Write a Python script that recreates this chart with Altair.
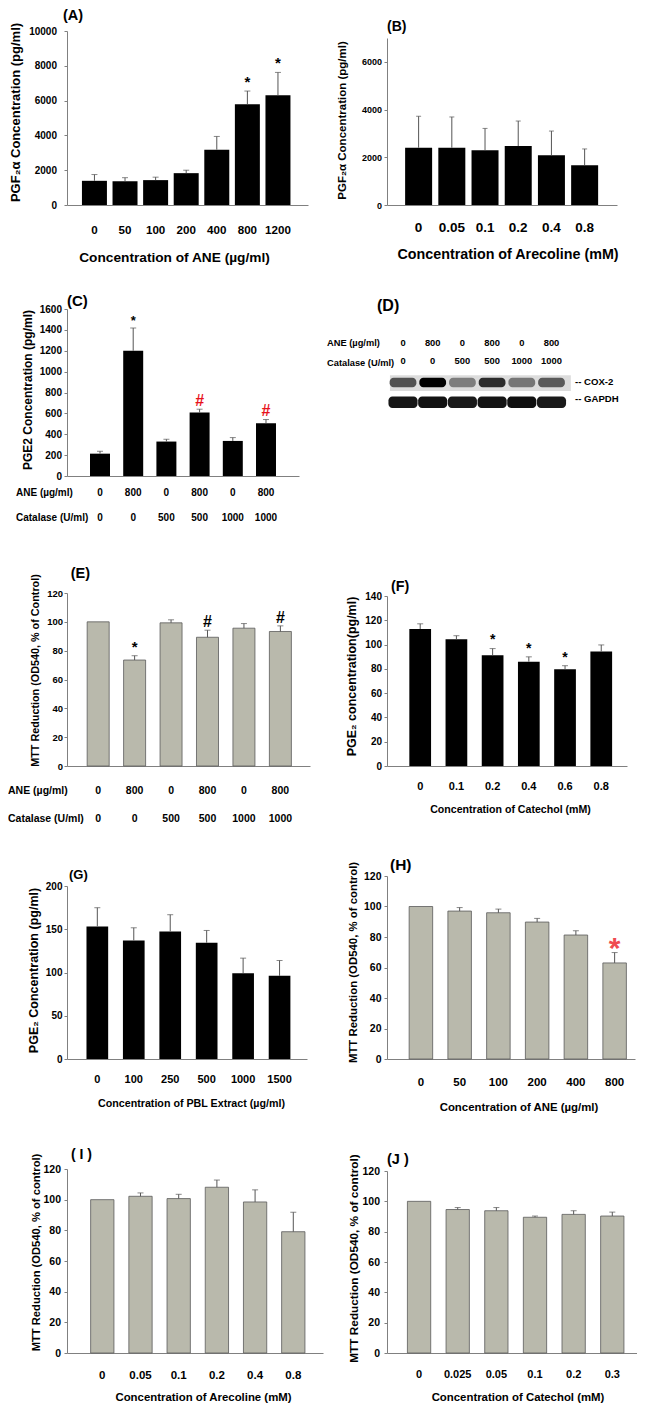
import altair as alt
import pandas as pd

FONT = "Liberation Sans"
BLACK = "#000000"
GRAY_BAR = "#b9b9ac"
BAR_EDGE = "#5a5a5a"
AXIS_GRAY = "#808080"
ERR_COL = "#555555"
RED = "#e8141c"
RED_STAR = "#ef4b50"

# ---------------- data ----------------
A_cats = ["0", "50", "100", "200", "400", "800", "1200"]
A_vals = [1390, 1360, 1430, 1830, 3180, 5790, 6310]
A_sd = [360, 210, 170, 170, 760, 760, 1310]
A_sig = ["", "", "", "", "", "*", "*"]

B_cats = ["0", "0.05", "0.1", "0.2", "0.4", "0.8"]
B_vals = [2400, 2400, 2300, 2470, 2090, 1670]
B_sd = [1320, 1290, 910, 1050, 1010, 680]

ANE_ROW = ["0", "800", "0", "800", "0", "800"]
CAT_ROW = ["0", "0", "500", "500", "1000", "1000"]

C_vals = [214, 1200, 330, 608, 336, 506]
C_sd = [23, 218, 22, 32, 32, 35]
C_sig = ["", "*", "", "#", "", "#"]

D_lanes = [1, 2, 3, 4, 5, 6]
D_cox2 = [0.62, 1.0, 0.42, 0.8, 0.45, 0.58]
D_gapdh = [0.92, 0.94, 0.9, 0.93, 0.95, 0.9]

E_vals = [100, 73.5, 99.3, 89.3, 95.6, 93.3]
E_sd = [0, 3.0, 2.1, 4.9, 3.2, 3.9]
E_sig = ["", "*", "", "#", "", "#"]

F_cats = ["0", "0.1", "0.2", "0.4", "0.6", "0.8"]
F_vals = [112.8, 104.3, 91.3, 85.9, 79.6, 94.3]
F_sd = [4.3, 3.0, 5.4, 4.0, 3.0, 5.4]
F_sig = ["", "", "*", "*", "*", ""]

G_cats = ["0", "100", "250", "500", "1000", "1500"]
G_vals = [153.3, 137.0, 147.5, 134.4, 99.2, 96.1]
G_sd = [21.6, 14.7, 19.3, 14.2, 17.4, 17.8]

H_cats = ["0", "50", "100", "200", "400", "800"]
H_vals = [100, 97.0, 95.9, 89.8, 81.3, 63.0]
H_sd = [0, 2.3, 2.4, 2.4, 2.8, 6.8]
H_sig = ["", "", "", "", "", "*"]

I_cats = ["0", "0.05", "0.1", "0.2", "0.4", "0.8"]
I_vals = [100, 102.2, 100.7, 108.1, 98.5, 79.1]
I_sd = [0, 2.2, 2.8, 4.7, 7.9, 12.7]

J_cats = ["0", "0.025", "0.05", "0.1", "0.2", "0.3"]
J_vals = [100, 94.6, 93.8, 89.5, 91.4, 90.3]
J_sd = [0, 1.3, 2.1, 0.8, 2.4, 2.6]


def text_chart(t, x, y, fs, color=BLACK, align="left"):
    return alt.Chart(pd.DataFrame({"t": [t]})).mark_text(
        align=align, baseline="middle", fontSize=fs, color=color, fontWeight="bold"
    ).encode(x=alt.value(x), y=alt.value(y), text="t:N")


def bar_panel(cats, vals, sds, *, width, height, top, ymax, ystep, band, gray,
              sig=None, sig_styles=(), rows=None,
              xlab_fs=11, xlab_pad=15, ylab_fs=10, ylab_pad=3,
              ytitle="", ytitle_fs=11, ytitle_x=-35, ytitle_y=90,
              xtitle=None, xtitle_fs=11, xtitle_x=120, xtitle_y=45,
              letter="", letter_fs=14, letter_x=0, letter_y=0, cap=6):
    n = len(cats)
    ids = [f"k{i}" for i in range(n)]
    df = pd.DataFrame({
        "id": ids, "lab": cats, "val": vals,
        "up": [v + s for v, s in zip(vals, sds)], "sd": sds,
        "sig": sig if sig else [""] * n,
    })
    if rows:
        for i, r in enumerate(rows["texts"]):
            df[f"r{i}"] = r
    unique = rows is None
    xf = "lab" if unique else "id"
    order = cats if unique else ids
    pi, po, al = band
    xscale = alt.Scale(paddingInner=pi, paddingOuter=po, align=al)
    xkw = dict(labels=unique, ticks=False, tickSize=0, labelAngle=0,
               labelFontSize=xlab_fs, labelPadding=xlab_pad, labelOverlap=False,
               domainColor=AXIS_GRAY, domainWidth=1)
    if xtitle:
        xkw.update(title=xtitle, titleFontSize=xtitle_fs, titleX=xtitle_x, titleY=xtitle_y,
                   titleAlign="center", titleBaseline="middle", titleAnchor="start")
    else:
        xkw.update(title=None)
    xaxis = alt.Axis(**xkw)
    yscale = alt.Scale(domain=[0, ymax], range=[height, top], nice=False, zero=True)
    yaxis = alt.Axis(title=ytitle, values=list(range(0, ymax + 1, ystep)), format="d",
                     tickSize=3, labelFontSize=ylab_fs, labelPadding=ylab_pad,
                     titleFontSize=ytitle_fs, titleX=ytitle_x, titleY=ytitle_y,
                     titleAngle=270, titleAlign="center", titleBaseline="middle",
                     domainColor=AXIS_GRAY, tickColor=AXIS_GRAY, grid=False)

    def X():
        return alt.X(f"{xf}:N", sort=order, scale=xscale, axis=xaxis)

    def Y(f):
        return alt.Y(f"{f}:Q", scale=yscale, axis=yaxis)

    base = alt.Chart(df)
    if gray:
        bars = base.mark_bar(fill=GRAY_BAR, stroke=BAR_EDGE, strokeWidth=0.8)
    else:
        bars = base.mark_bar(color=BLACK)
    layers = [bars.encode(x=X(), y=Y("val"))]
    eb = base.transform_filter("datum.sd > 0")
    layers.append(eb.mark_rule(color=ERR_COL, strokeWidth=1).encode(x=X(), y=Y("val"), y2="up:Q"))
    layers.append(eb.mark_tick(orient="horizontal", color=ERR_COL, thickness=1, size=cap)
                  .encode(x=X(), y=Y("up")))
    for sym, col, fs, dy in sig_styles:
        layers.append(base.transform_filter(alt.datum.sig == sym).mark_text(
            color=col, fontSize=fs, dy=dy, baseline="alphabetic", fontWeight="bold"
        ).encode(x=X(), y=Y("up"), text="sig:N"))
    if rows:
        for i, (hdr, dy) in enumerate(zip(rows["headers"], rows["dys"])):
            layers.append(base.mark_text(fontSize=rows["fs"], baseline="middle", fontWeight="bold")
                          .encode(x=X(), y=alt.value(height + dy), text=f"r{i}:N"))
            layers.append(text_chart(hdr, rows["hx"], height + dy, rows["fs"]))
    if letter:
        layers.append(text_chart(letter, letter_x, letter_y, letter_fs))
    return alt.layer(*layers).properties(width=width, height=height)


def d_panel():
    W, Hh = 200, 167
    lane_px, row_px = 29.7, 19.7
    xs = alt.Scale(domain=[0.461, 0.461 + W / lane_px], nice=False, zero=False)
    ys = alt.Scale(domain=[-34 / row_px, -34 / row_px + Hh / row_px], nice=False, zero=False, reverse=True)
    bands = []
    for ln, c in zip(D_lanes, D_cox2):
        bands.append({"lane0": ln - 0.45, "lane1": ln + 0.45, "r0": 1.76, "r1": 2.24, "v": c})
    for ln, g in zip(D_lanes, D_gapdh):
        bands.append({"lane0": ln - 0.49, "lane1": ln + 0.49, "r0": 2.72, "r1": 3.3, "v": g})
    bdf = pd.DataFrame(bands)
    bg = pd.DataFrame({"lane0": [0.56], "lane1": [6.65], "r0": [1.64], "r1": [2.44]})
    vals = pd.DataFrame({"lane": D_lanes, "ane": ANE_ROW, "cat": CAT_ROW})
    heads = pd.DataFrame({"t": ["ANE (µg/ml)", "Catalase (U/ml)"], "row": [0, 1]})
    prot = pd.DataFrame({"t": ["-- COX-2", "-- GAPDH"], "row": [2.0, 2.84], "lane": [6.79, 6.79]})
    layers = [
        alt.Chart(bg).mark_rect(color="#dcdcdc").encode(
            x=alt.X("lane0:Q", scale=xs, axis=None), x2="lane1:Q",
            y=alt.Y("r0:Q", scale=ys, axis=None), y2="r1:Q"),
        alt.Chart(bdf).mark_rect(cornerRadius=4).encode(
            x=alt.X("lane0:Q", scale=xs, axis=None), x2="lane1:Q",
            y=alt.Y("r0:Q", scale=ys, axis=None), y2="r1:Q",
            color=alt.Color("v:Q", scale=alt.Scale(domain=[0, 1], range=["#e4e4e4", "#000000"]), legend=None)),
        alt.Chart(vals).mark_text(fontSize=9.4, baseline="middle", fontWeight="bold").encode(
            x=alt.X("lane:Q", scale=xs, axis=None), y=alt.value(34), text="ane:N"),
        alt.Chart(vals).mark_text(fontSize=9.4, baseline="middle", fontWeight="bold").encode(
            x=alt.X("lane:Q", scale=xs, axis=None), y=alt.value(34 + row_px * 0.91), text="cat:N"),
        alt.Chart(heads).mark_text(fontSize=9.3, baseline="middle", align="left", fontWeight="bold").encode(
            x=alt.value(-60), y=alt.Y("row:Q", scale=ys, axis=None), text="t:N"),
        alt.Chart(prot).mark_text(fontSize=9.6, baseline="middle", align="left", fontWeight="bold").encode(
            x=alt.X("lane:Q", scale=xs, axis=None), y=alt.Y("row:Q", scale=ys, axis=None), text="t:N"),
        text_chart("(D)", -10, -3, 16),
    ]
    return alt.layer(*layers).properties(width=W, height=Hh)


pA = bar_panel(A_cats, A_vals, A_sd, width=241, height=174, top=0, ymax=10000, ystep=2000,
               band=(0.183, 0.531, 0.46), gray=False, sig=A_sig,
               sig_styles=[("*", BLACK, 15, -4.5)],
               xlab_fs=11.6, xlab_pad=19, ylab_fs=10, ylab_pad=7.5,
               ytitle="PGF₂α Concentration (pg/ml)", ytitle_fs=13, ytitle_x=-52, ytitle_y=81,
               xtitle="Concentration of ANE (µg/ml)", xtitle_fs=13.7, xtitle_x=107, xtitle_y=52,
               letter="(A)", letter_fs=14.5, letter_x=-4, letter_y=-15, cap=6)

pB = bar_panel(B_cats, B_vals, B_sd, width=230, height=174, top=7, ymax=7000, ystep=2000,
               band=(0.187, 0.557, 0.49), gray=False,
               xlab_fs=13.5, xlab_pad=15.2, ylab_fs=9, ylab_pad=2.5,
               ytitle="PGF₂α Concentration (pg/ml)", ytitle_fs=11.5, ytitle_x=-45, ytitle_y=89,
               xtitle="Concentration of Arecoline (mM)", xtitle_fs=14.3, xtitle_x=120.5, xtitle_y=49,
               letter="(B)", letter_fs=14, letter_x=0, letter_y=-4, cap=5)

pC = bar_panel(["c0", "c1", "c2", "c3", "c4", "c5"], C_vals, C_sd, width=232, height=167, top=0,
               ymax=1600, ystep=200, band=(0.398, 0.693, 0.5), gray=False, sig=C_sig,
               sig_styles=[("*", BLACK, 13, -2.6), ("#", RED, 16, -3.5)],
               rows={"texts": [ANE_ROW, CAT_ROW], "headers": ["ANE (µg/ml)", "Catalase (U/ml)"],
                     "dys": [17, 42], "fs": 10, "hx": -51},
               ylab_fs=10, ylab_pad=2.5,
               ytitle="PGE2 Concentration (pg/ml)", ytitle_fs=12, ytitle_x=-40, ytitle_y=80.5,
               letter="(C)", letter_fs=15, letter_x=0, letter_y=-8, cap=6)

pD = d_panel()

pE = bar_panel(["e0", "e1", "e2", "e3", "e4", "e5"], E_vals, E_sd, width=243, height=186, top=13,
               ymax=120, ystep=20, band=(0.396, 0.532, 0.52), gray=True, sig=E_sig,
               sig_styles=[("*", BLACK, 15, -3.4), ("#", BLACK, 16, -3.2)],
               rows={"texts": [ANE_ROW, CAT_ROW], "headers": ["ANE (µg/ml)", "Catalase (U/ml)"],
                     "dys": [25, 53], "fs": 10.5, "hx": -59},
               ylab_fs=9.5, ylab_pad=1.5,
               ytitle="MTT Reduction (OD540, % of Control)", ytitle_fs=10.8, ytitle_x=-32, ytitle_y=90,
               letter="(E)", letter_fs=14.5, letter_x=3.7, letter_y=-6.5, cap=6)

pF = bar_panel(F_cats, F_vals, F_sd, width=240, height=186, top=16, ymax=140, ystep=20,
               band=(0.40, 0.514, 0.60), gray=False, sig=F_sig,
               sig_styles=[("*", BLACK, 14, -4.2)],
               xlab_fs=11, xlab_pad=14.3, ylab_fs=10, ylab_pad=2.5,
               ytitle="PGE₂ concentration(pg/ml)", ytitle_fs=12.5, ytitle_x=-35.3, ytitle_y=96,
               xtitle="Concentration of Catechol (mM)", xtitle_fs=10.6, xtitle_x=123, xtitle_y=43,
               letter="(F)", letter_fs=14.3, letter_x=4, letter_y=7, cap=6)

pG = bar_panel(G_cats, G_vals, G_sd, width=240, height=189, top=16, ymax=200, ystep=50,
               band=(0.405, 0.495, 0.54), gray=False,
               xlab_fs=11, xlab_pad=14, ylab_fs=10, ylab_pad=2,
               ytitle="PGE₂ Concentration (pg/ml)", ytitle_fs=12.5, ytitle_x=-34, ytitle_y=100,
               xtitle="Concentration of PBL Extract (µg/ml)", xtitle_fs=10.7, xtitle_x=124, xtitle_y=44.7,
               letter="(G)", letter_fs=13, letter_x=2, letter_y=4.5, cap=6)

pH = bar_panel(H_cats, H_vals, H_sd, width=248, height=189, top=6, ymax=120, ystep=20,
               band=(0.393, 0.397, 0.72), gray=True, sig=H_sig,
               sig_styles=[("*", RED_STAR, 30, 5.9)],
               xlab_fs=11.5, xlab_pad=17, ylab_fs=10.5, ylab_pad=3,
               ytitle="MTT Reduction (OD540, % of control)", ytitle_fs=11.4, ytitle_x=-34, ytitle_y=92,
               xtitle="Concentration of ANE (µg/ml)", xtitle_fs=11.4, xtitle_x=131.5, xtitle_y=48.7,
               letter="(H)", letter_fs=15.5, letter_x=3, letter_y=-5.5, cap=6)

pI = bar_panel(I_cats, I_vals, I_sd, width=256, height=190, top=6, ymax=120, ystep=20,
               band=(0.39, 0.546, 0.567), gray=True,
               xlab_fs=11.5, xlab_pad=16, ylab_fs=10.5, ylab_pad=3.5,
               ytitle="MTT Reduction (OD540, % of control)", ytitle_fs=11.2, ytitle_x=-30.3, ytitle_y=89,
               xtitle="Concentration of Arecoline (mM)", xtitle_fs=11.4, xtitle_x=136, xtitle_y=44,
               letter="( I )", letter_fs=14, letter_x=4, letter_y=-8, cap=6)

pJ = bar_panel(J_cats, J_vals, J_sd, width=250, height=190, top=8, ymax=120, ystep=20,
               band=(0.397, 0.433, 0.61), gray=True,
               xlab_fs=11, xlab_pad=15.3, ylab_fs=10.5, ylab_pad=4.5,
               ytitle="MTT Reduction (OD540, % of control)", ytitle_fs=11.8, ytitle_x=-34, ytitle_y=95,
               xtitle="Concentration of Catechol (mM)", xtitle_fs=11.4, xtitle_x=130.5, xtitle_y=44,
               letter="(J )", letter_fs=14.5, letter_x=0, letter_y=-3, cap=6)

chart = alt.concat(pA, pB, pC, pD, pE, pF, pG, pH, pI, pJ, columns=2,
                   spacing={"row": 104, "column": 64}, bounds="flush").properties(
    padding=0
).configure(font=FONT).configure_view(stroke=None, strokeWidth=0).configure_axis(
    labelFont=FONT, titleFont=FONT, labelFontWeight="bold", titleFontWeight="bold",
    labelColor=BLACK, titleColor=BLACK
).configure_text(font=FONT)

chart.save("out.html", embed_options={"renderer": "svg", "actions": False})
